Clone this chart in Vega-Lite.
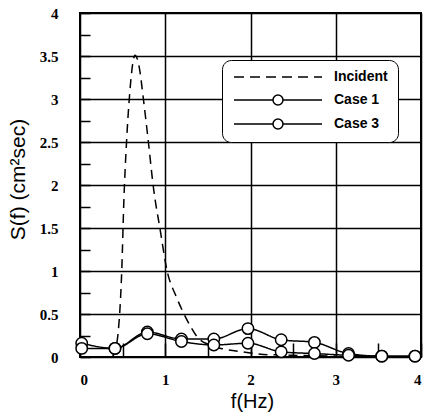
{
  "$schema": "https://vega.github.io/schema/vega-lite/v6.json",
  "width": 341,
  "height": 344,
  "autosize": {"type": "none"},
  "padding": {"left": 80, "top": 13, "right": 2, "bottom": 57},
  "background": "white",
  "config": {
    "view": {"stroke": "black", "strokeWidth": 2},
    "axis": {
      "domain": false,
      "labelFont": "Liberation Serif",
      "labelFontWeight": "bold",
      "labelFontSize": 15,
      "labelColor": "black",
      "titleFont": "Liberation Sans",
      "titleFontWeight": "normal",
      "titleColor": "black",
      "tickColor": "black",
      "tickWidth": 1.5,
      "gridColor": "black",
      "gridWidth": 1.5
    }
  },
  "data": {
    "values": [
      {"series": "Incident", "f": 0.38, "s": 0.0},
      {"series": "Incident", "f": 0.43, "s": 0.15},
      {"series": "Incident", "f": 0.45, "s": 0.31},
      {"series": "Incident", "f": 0.49, "s": 1.01},
      {"series": "Incident", "f": 0.515, "s": 1.83},
      {"series": "Incident", "f": 0.547, "s": 2.52},
      {"series": "Incident", "f": 0.586, "s": 3.1},
      {"series": "Incident", "f": 0.62, "s": 3.42},
      {"series": "Incident", "f": 0.645, "s": 3.51},
      {"series": "Incident", "f": 0.7, "s": 3.34},
      {"series": "Incident", "f": 0.74, "s": 3.03},
      {"series": "Incident", "f": 0.8, "s": 2.52},
      {"series": "Incident", "f": 0.86, "s": 1.98},
      {"series": "Incident", "f": 0.94, "s": 1.48},
      {"series": "Incident", "f": 1.02, "s": 1.01},
      {"series": "Incident", "f": 1.13, "s": 0.7},
      {"series": "Incident", "f": 1.21, "s": 0.52},
      {"series": "Incident", "f": 1.3, "s": 0.35},
      {"series": "Incident", "f": 1.37, "s": 0.24},
      {"series": "Incident", "f": 1.52, "s": 0.14},
      {"series": "Incident", "f": 1.7, "s": 0.09},
      {"series": "Incident", "f": 1.91, "s": 0.06},
      {"series": "Incident", "f": 2.15, "s": 0.03},
      {"series": "Incident", "f": 2.5, "s": 0.02},
      {"series": "Incident", "f": 3.0, "s": 0.01},
      {"series": "Case 1", "f": 0.02, "s": 0.16},
      {"series": "Case 1", "f": 0.41, "s": 0.1},
      {"series": "Case 1", "f": 0.79, "s": 0.29},
      {"series": "Case 1", "f": 1.19, "s": 0.21},
      {"series": "Case 1", "f": 1.57, "s": 0.21},
      {"series": "Case 1", "f": 1.97, "s": 0.33},
      {"series": "Case 1", "f": 2.36, "s": 0.2},
      {"series": "Case 1", "f": 2.75, "s": 0.17},
      {"series": "Case 1", "f": 3.15, "s": 0.04},
      {"series": "Case 1", "f": 3.54, "s": 0.01},
      {"series": "Case 1", "f": 3.93, "s": 0.01},
      {"series": "Case 3", "f": 0.02, "s": 0.1},
      {"series": "Case 3", "f": 0.41, "s": 0.1},
      {"series": "Case 3", "f": 0.79, "s": 0.27},
      {"series": "Case 3", "f": 1.19, "s": 0.18},
      {"series": "Case 3", "f": 1.57, "s": 0.14},
      {"series": "Case 3", "f": 1.97, "s": 0.16},
      {"series": "Case 3", "f": 2.36, "s": 0.06},
      {"series": "Case 3", "f": 2.75, "s": 0.04},
      {"series": "Case 3", "f": 3.15, "s": 0.02},
      {"series": "Case 3", "f": 3.54, "s": 0.01},
      {"series": "Case 3", "f": 3.93, "s": 0.01}
    ]
  },
  "encoding": {
    "x": {
      "field": "f",
      "type": "quantitative",
      "scale": {"domain": [0, 4], "nice": false},
      "axis": {
        "title": "f(Hz)",
        "titleFontSize": 20,
        "titleX": 172,
        "titleY": 50,
        "titleAlign": "center",
        "titleBaseline": "alphabetic",
        "values": [0, 0.5, 1, 1.5, 2, 2.5, 3, 3.5, 4],
        "grid": true,
        "gridOpacity": {"condition": {"test": "datum.value % 1 !== 0", "value": 0}, "value": 1},
        "tickSize": -14,
        "labelPadding": 29,
        "labelExpr": "datum.value % 1 ? '' : '' + datum.value"
      }
    },
    "y": {
      "field": "s",
      "type": "quantitative",
      "scale": {"domain": [0, 4], "nice": false},
      "axis": {
        "title": "S(f) (cm²sec)",
        "titleFontSize": 21,
        "titleX": -62,
        "titleY": 166,
        "titleAngle": -90,
        "titleAlign": "center",
        "titleBaseline": "middle",
        "values": [0, 0.25, 0.5, 0.75, 1, 1.25, 1.5, 1.75, 2, 2.25, 2.5, 2.75, 3, 3.25, 3.5, 3.75, 4],
        "grid": true,
        "gridOpacity": {"condition": {"test": "datum.value % 0.5 !== 0", "value": 0}, "value": 1},
        "tickSize": -10,
        "labelPadding": 32,
        "labelExpr": "datum.value % 0.5 ? '' : '' + datum.value"
      }
    }
  },
  "layer": [
    {
      "mark": {"type": "line", "color": "black", "strokeWidth": 1.5, "interpolate": "monotone"},
      "encoding": {
        "detail": {"field": "series", "type": "nominal"},
        "strokeDash": {
          "condition": {"test": "datum.series === 'Incident'", "value": [9, 6]},
          "value": [1, 0]
        }
      }
    },
    {
      "transform": [{"filter": "datum.series !== 'Incident'"}],
      "mark": {"type": "point", "shape": "circle", "filled": true, "fill": "white", "stroke": "black", "strokeWidth": 1.5, "size": 130, "opacity": 1}
    },
    {
      "transform": [{"filter": "datum.f < 0"}],
      "mark": {"type": "point", "filled": false, "color": "black", "stroke": "black", "strokeWidth": 1.5, "size": 100, "opacity": 1},
      "encoding": {
        "shape": {
          "field": "series",
          "type": "nominal",
          "scale": {
            "domain": ["Incident", "Case 1", "Case 3"],
            "range": [
              "M-1,0H1M2.2,0H4.2M5.4,0H7.4M8.6,0H10.6M11.8,0H13.8M15,0H16.6",
              "M-1,0H6.8M8.8,0H16.6M8.8,0C8.8,0.5523 8.3523,1 7.8,1C7.2477,1 6.8,0.5523 6.8,0C6.8,-0.5523 7.2477,-1 7.8,-1C8.3523,-1 8.8,-0.5523 8.8,0Z",
              "M-1,0H6.8M8.8,0H16.6M8.8,0C8.8,0.5523 8.3523,1 7.8,1C7.2477,1 6.8,0.5523 6.8,0C6.8,-0.5523 7.2477,-1 7.8,-1C8.3523,-1 8.8,-0.5523 8.8,0Z"
            ]
          },
          "legend": {
            "title": null,
            "orient": "none",
            "legendX": 142,
            "legendY": 47,
            "symbolSize": 100,
            "symbolOpacity": 1,
            "symbolStrokeColor": "black",
            "symbolStrokeWidth": 1.5,
            "rowPadding": 8,
            "labelFont": "Liberation Sans",
            "labelFontWeight": "bold",
            "labelFontSize": 14,
            "labelColor": "black",
            "labelOffset": 88,
            "padding": 10,
            "strokeColor": "black",
            "cornerRadius": 9,
            "fillColor": "white"
          }
        }
      }
    }
  ]
}
